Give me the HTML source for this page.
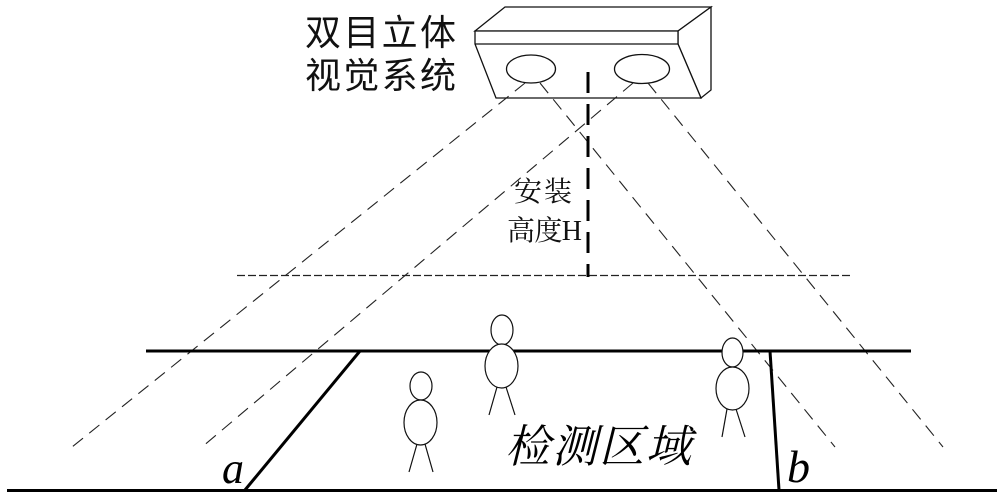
<!DOCTYPE html>
<html>
<head>
<meta charset="utf-8">
<style>
  html,body{margin:0;padding:0;background:#fff;}
  body{width:1000px;height:496px;overflow:hidden;}
  svg{display:block;}
</style>
</head>
<body>
<svg width="1000" height="496" viewBox="0 0 1000 496" xmlns="http://www.w3.org/2000/svg">
  <rect x="0" y="0" width="1000" height="496" fill="#fff"/>

  <!-- Camera -->
  <g fill="#fff" stroke="#111" stroke-width="1.3" stroke-linejoin="miter">
    <polygon points="475,31 505,7 711,7 678,31"/>
    <polygon points="678,31 711,7 711,90 701,98 678,44"/>
    <polygon points="475,31 678,31 678,44 701,98 496,98 475,44"/>
    <line x1="475" y1="44" x2="678" y2="44"/>
    <ellipse cx="531" cy="69" rx="24.5" ry="14"/>
    <ellipse cx="642" cy="69" rx="27.5" ry="14.5"/>
  </g>

  <!-- Horizontal dashed line -->
  <line x1="237" y1="275.5" x2="853" y2="275.5" stroke="#222" stroke-width="1.2" stroke-dasharray="8 3"/>

  <!-- View cone dashed lines -->
  <g stroke="#222" stroke-width="1.1" stroke-dasharray="13 8" fill="none">
    <line x1="525" y1="83" x2="72" y2="447"/>
    <line x1="633" y1="83" x2="202" y2="447"/>
    <line x1="540" y1="83" x2="835" y2="447"/>
    <line x1="648" y1="83" x2="943" y2="447"/>
  </g>

  <!-- Vertical dashed line (install height) -->
  <line x1="588" y1="72" x2="588" y2="277" stroke="#000" stroke-width="3" stroke-dasharray="21 11"/>

  <!-- Main solid lines -->
  <g stroke="#000" stroke-width="3" fill="none" stroke-linecap="butt">
    <line x1="146" y1="351" x2="911" y2="351"/>
    <line x1="7" y1="490.5" x2="997" y2="490.5"/>
    <line x1="360" y1="351" x2="245" y2="490"/>
    <line x1="770" y1="351" x2="779" y2="490"/>
  </g>

  <!-- People -->
  <g fill="#fff" stroke="#111" stroke-width="1.2">
    <!-- person 1 -->
    <line x1="417" y1="444" x2="409" y2="472"/>
    <line x1="425" y1="444" x2="433" y2="472"/>
    <ellipse cx="421" cy="386" rx="11" ry="14"/>
    <ellipse cx="420.5" cy="422.5" rx="16.5" ry="22.5"/>
    <!-- person 2 -->
    <line x1="497" y1="387" x2="489" y2="415"/>
    <line x1="506" y1="387" x2="515" y2="415"/>
    <ellipse cx="502" cy="330" rx="11" ry="15"/>
    <ellipse cx="501.5" cy="366" rx="16.5" ry="22"/>
    <!-- person 3 -->
    <line x1="727" y1="409" x2="722" y2="437"/>
    <line x1="736" y1="409" x2="745" y2="437"/>
    <ellipse cx="732.5" cy="352.5" rx="10.5" ry="14.5"/>
    <ellipse cx="732.5" cy="388.5" rx="16.5" ry="21.5"/>
  </g>

  <!-- Text -->
  <g font-family="'Liberation Sans','Noto Sans CJK SC',sans-serif" font-size="36" fill="#111">
    <text x="305" y="45" textLength="151" lengthAdjust="spacing">双目立体</text>
    <text x="305" y="88" textLength="151" lengthAdjust="spacing">视觉系统</text>
  </g>
  <g font-family="'Liberation Serif','Noto Serif CJK SC',serif" font-size="28" fill="#111">
    <text x="514" y="201" textLength="58" lengthAdjust="spacing">安装</text>
    <text x="507" y="240" textLength="75" lengthAdjust="spacing">高度H</text>
  </g>
  <text x="505" y="462" font-family="'Liberation Serif','Noto Serif CJK SC',serif" font-size="45" font-style="italic" fill="#000" textLength="186" lengthAdjust="spacing">检测区域</text>
  <text x="222" y="483" font-family="'Liberation Serif',serif" font-size="44" font-style="italic" fill="#000">a</text>
  <text x="787" y="482" font-family="'Liberation Serif',serif" font-size="46" font-style="italic" fill="#000">b</text>
</svg>
</body>
</html>
